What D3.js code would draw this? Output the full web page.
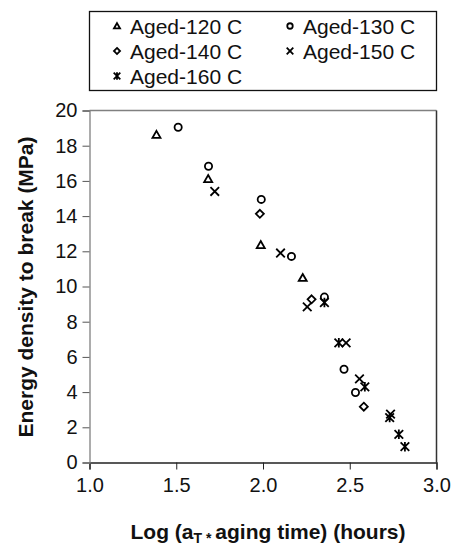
<!DOCTYPE html>
<html><head><meta charset="utf-8">
<script src="https://cdn.jsdelivr.net/npm/d3@7"></script>
<style>body{margin:0;background:#fff}svg{display:block;font-family:"Liberation Sans",Arial,sans-serif}</style>
</head><body><svg id="c" width="452" height="545"></svg>
<script>
const seriesNames = ["Aged-120 C","Aged-130 C","Aged-140 C","Aged-150 C","Aged-160 C"];
const markerTypes = ["triangle","circle","diamond","cross","star"];
const aged120 = [[1.386,18.63],[1.684,16.12],[1.987,12.37],[2.229,10.50]];
const aged130 = [[1.511,19.05],[1.686,16.83],[1.990,14.95],[2.164,11.71],[2.354,9.40],[2.467,5.30],[2.533,3.98]];
const aged140 = [[1.982,14.13],[2.280,9.27],[2.581,3.17]];
const aged150 = [[1.722,15.40],[2.101,11.90],[2.255,8.84],[2.479,6.80],[2.556,4.75],[2.735,2.75]];
const aged160 = [[2.354,9.09],[2.437,6.80],[2.587,4.30],[2.730,2.55],[2.783,1.60],[2.818,0.90]];
const xTicks = [1.0,1.5,2.0,2.5,3.0];
const yTicks = [0,2,4,6,8,10,12,14,16,18,20];
const allSeries = [aged120,aged130,aged140,aged150,aged160];

const svg = d3.select("#c");
const L=89.5, R=436.5, T=110.5, B=462.5;
const x = d3.scaleLinear().domain([1,3]).range([L,R]);
const y = d3.scaleLinear().domain([0,20]).range([B,T]);

// plot frame
svg.append("line").attr("x1",L).attr("x2",R).attr("y1",T).attr("y2",T).attr("stroke","#808080").attr("stroke-width",1.5);
svg.append("line").attr("x1",R).attr("x2",R).attr("y1",T).attr("y2",B).attr("stroke","#333").attr("stroke-width",1.5);

// axes
const xa = svg.append("g").attr("transform",`translate(0,${B})`)
  .call(d3.axisBottom(x).tickValues(xTicks).tickFormat(d3.format(".1f")).tickSize(7).tickPadding(8));
xa.select(".domain").attr("stroke","#222").attr("stroke-width",1.3);
xa.selectAll(".tick line").attr("stroke","#222");
xa.selectAll("text").attr("font-size",20).attr("fill","#111").attr("font-family","Liberation Sans, Arial, sans-serif");

const ya = svg.append("g").attr("transform",`translate(${L},0)`)
  .call(d3.axisLeft(y).tickValues(yTicks).tickSize(7).tickPadding(5));
ya.select(".domain").attr("stroke","#808080").attr("stroke-width",1.3);
ya.selectAll(".tick line").attr("stroke","#555");
ya.selectAll("text").attr("font-size",20).attr("fill","#111").attr("font-family","Liberation Sans, Arial, sans-serif");

// markers
function drawMarker(g, type, cx, cy, s){
  const sw = 1.8;
  if(type==="triangle"){
    g.append("path").attr("d",`M${cx},${cy-s*0.75}L${cx+s*0.8},${cy+s*0.65}L${cx-s*0.8},${cy+s*0.65}Z`)
      .attr("fill","none").attr("stroke","#000").attr("stroke-width",sw).attr("stroke-linejoin","miter");
  } else if(type==="circle"){
    g.append("circle").attr("cx",cx).attr("cy",cy).attr("r",s*0.72).attr("fill","none").attr("stroke","#000").attr("stroke-width",sw);
  } else if(type==="diamond"){
    g.append("path").attr("d",`M${cx},${cy-s*0.8}L${cx+s*0.8},${cy}L${cx},${cy+s*0.8}L${cx-s*0.8},${cy}Z`)
      .attr("fill","none").attr("stroke","#000").attr("stroke-width",sw);
  } else if(type==="cross"){
    g.append("path").attr("d",`M${cx-s},${cy-s}L${cx+s},${cy+s}M${cx+s},${cy-s}L${cx-s},${cy+s}`)
      .attr("stroke","#000").attr("stroke-width",sw);
  } else if(type==="star"){
    g.append("path").attr("d",`M${cx-s},${cy-s}L${cx+s},${cy+s}M${cx+s},${cy-s}L${cx-s},${cy+s}M${cx},${cy-s*1.1}L${cx},${cy+s*1.1}`)
      .attr("stroke","#000").attr("stroke-width",sw);
  }
}
const pts = svg.append("g");
allSeries.forEach((ser,i)=>{
  ser.forEach(d=>{
    const s = markerTypes[i]==="cross"||markerTypes[i]==="star" ? 4.3 : 5;
    drawMarker(pts, markerTypes[i], x(d[0]), y(d[1]), s);
  });
});

// legend
svg.append("rect").attr("x",89.5).attr("y",11.5).attr("width",347).attr("height",79).attr("fill","#fff").attr("stroke","#111").attr("stroke-width",1.3);
const legPos = [[117,26],[290,26],[117,51],[290,51],[117,76]];
seriesNames.forEach((n,i)=>{
  const [mx,my]=legPos[i];
  drawMarker(svg.append("g"), markerTypes[i], mx, my, markerTypes[i]==="cross"||markerTypes[i]==="star"?3.3:3.8);
  svg.append("text").attr("x",mx+13).attr("y",my+7.5).attr("font-size",21).attr("fill","#111").text(n);
});

// axis titles
const xt = svg.append("text").attr("x",268).attr("y",539).attr("text-anchor","middle").attr("font-size",21).attr("font-weight","bold").attr("fill","#111");
xt.append("tspan").text("Log (a");
xt.append("tspan").attr("font-size",14).attr("dy",4).text("T");
xt.append("tspan").attr("font-size",14).attr("dy",0).text(" * ");
xt.append("tspan").attr("dy",-4).text("aging time) (hours)");

svg.append("text").attr("transform","translate(32.5,287) rotate(-90)").attr("text-anchor","middle").attr("font-size",21).attr("font-weight","bold").attr("fill","#111").text("Energy density to break (MPa)");
</script></body></html>
